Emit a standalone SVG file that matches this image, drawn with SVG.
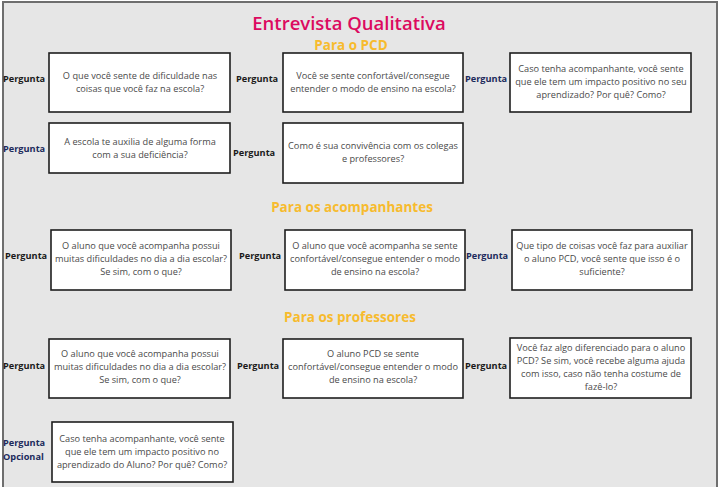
<svg xmlns="http://www.w3.org/2000/svg" width="719" height="487" viewBox="0 0 719 487">
<style>
.bg{fill:#e6e6e6;stroke:#6e6e6e;stroke-width:2}
.box{fill:#ffffff;stroke:#1e1e1e;stroke-width:1.6}
.q{font-family:"Open Sans","Liberation Sans",sans-serif;font-size:9.2px;fill:#4a4a4a;text-anchor:middle}
.lbl{font-family:"Open Sans","Liberation Sans",sans-serif;font-size:9.2px;font-weight:700;fill:#1a1a1a}
.nv{fill:#1c2a5c}
.title{font-family:"Open Sans","Liberation Sans",sans-serif;font-size:18.5px;font-weight:600;fill:#dc0a5f;text-anchor:middle}
.sub{font-family:"Open Sans","Liberation Sans",sans-serif;font-size:13.5px;font-weight:700;fill:#f7bb2e;text-anchor:middle}
</style>
<rect x="0" y="0" width="719" height="487" fill="#ffffff"/>
<rect class="bg" x="3" y="2" width="714" height="492"/>
<g id="headings">
<text class="title" x="349" y="30">Entrevista Qualitativa</text>
<text class="sub" x="351" y="50">Para o PCD</text>
<text class="sub" x="352" y="212">Para os acompanhantes</text>
<text class="sub" x="350" y="322">Para os professores</text>
</g>
<g id="connectors"></g>
<g id="q1">
<text class="lbl" x="3" y="82">Pergunta</text>
<rect class="box" x="49" y="53" width="181" height="59"/>
<text class="q" x="140" y="79">O que você sente de dificuldade nas</text>
<text class="q" x="140" y="92">coisas que você faz na escola?</text>
</g>
<g id="q2">
<text class="lbl" x="236" y="82">Pergunta</text>
<rect class="box" x="283" y="53" width="180" height="59"/>
<text class="q" x="373" y="79">Você se sente confortável/consegue</text>
<text class="q" x="373" y="92">entender o modo de ensino na escola?</text>
</g>
<g id="q3">
<text class="lbl nv" x="465" y="82">Pergunta</text>
<rect class="box" x="510" y="53" width="181" height="59"/>
<text class="q" x="601" y="72">Caso tenha acompanhante, você sente</text>
<text class="q" x="601" y="85">que ele tem um impacto positivo no seu</text>
<text class="q" x="601" y="98">aprendizado? Por quê? Como?</text>
</g>
<g id="q4">
<text class="lbl nv" x="3" y="152">Pergunta</text>
<rect class="box" x="49" y="123" width="181" height="50"/>
<text class="q" x="140" y="145">A escola te auxilia de alguma forma</text>
<text class="q" x="140" y="158">com a sua deficiência?</text>
</g>
<g id="q5">
<text class="lbl" x="233" y="156">Pergunta</text>
<rect class="box" x="283" y="123" width="180" height="60"/>
<text class="q" x="373" y="149">Como é sua convivência com os colegas</text>
<text class="q" x="373" y="162">e professores?</text>
</g>
<g id="q6">
<text class="lbl" x="5" y="259">Pergunta</text>
<rect class="box" x="51" y="230" width="180" height="60"/>
<text class="q" x="141" y="249">O aluno que você acompanha possui</text>
<text class="q" x="141" y="262">muitas dificuldades no dia a dia escolar?</text>
<text class="q" x="141" y="275">Se sim, com o que?</text>
</g>
<g id="q7">
<text class="lbl" x="239" y="259">Pergunta</text>
<rect class="box" x="285" y="230" width="180" height="60"/>
<text class="q" x="375" y="249">O aluno que você acompanha se sente</text>
<text class="q" x="375" y="262">confortável/consegue entender o modo</text>
<text class="q" x="375" y="275">de ensino na escola?</text>
</g>
<g id="q8">
<text class="lbl nv" x="466" y="259">Pergunta</text>
<rect class="box" x="512" y="230" width="180" height="60"/>
<text class="q" x="602" y="249">Que tipo de coisas você faz para auxiliar</text>
<text class="q" x="602" y="262">o aluno PCD, você sente que isso é o</text>
<text class="q" x="602" y="275">suficiente?</text>
</g>
<g id="q9">
<text class="lbl" x="3" y="369">Pergunta</text>
<rect class="box" x="49" y="339" width="181" height="59"/>
<text class="q" x="140" y="357">O aluno que você acompanha possui</text>
<text class="q" x="140" y="370">muitas dificuldades no dia a dia escolar?</text>
<text class="q" x="140" y="383">Se sim, com o que?</text>
</g>
<g id="q10">
<text class="lbl" x="237" y="369">Pergunta</text>
<rect class="box" x="283" y="339" width="180" height="59"/>
<text class="q" x="373" y="357">O aluno PCD se sente</text>
<text class="q" x="373" y="370">confortável/consegue entender o modo</text>
<text class="q" x="373" y="383">de ensino na escola?</text>
</g>
<g id="q11">
<text class="lbl" x="465" y="369">Pergunta</text>
<rect class="box" x="510" y="338" width="181" height="60"/>
<text class="q" x="601" y="351">Você faz algo diferenciado para o aluno</text>
<text class="q" x="601" y="364">PCD? Se sim, você recebe alguma ajuda</text>
<text class="q" x="601" y="377">com isso, caso não tenha costume de</text>
<text class="q" x="601" y="390">fazê-lo?</text>
</g>
<g id="q12">
<text class="lbl nv" x="3" y="446">Pergunta</text>
<text class="lbl nv" x="3" y="460">Opcional</text>
<rect class="box" x="52" y="422" width="181" height="60"/>
<text class="q" x="142" y="442">Caso tenha acompanhante, você sente</text>
<text class="q" x="142" y="455">que ele tem um impacto positivo no</text>
<text class="q" x="142" y="468">aprendizado do Aluno? Por quê? Como?</text>
</g>
</svg>
